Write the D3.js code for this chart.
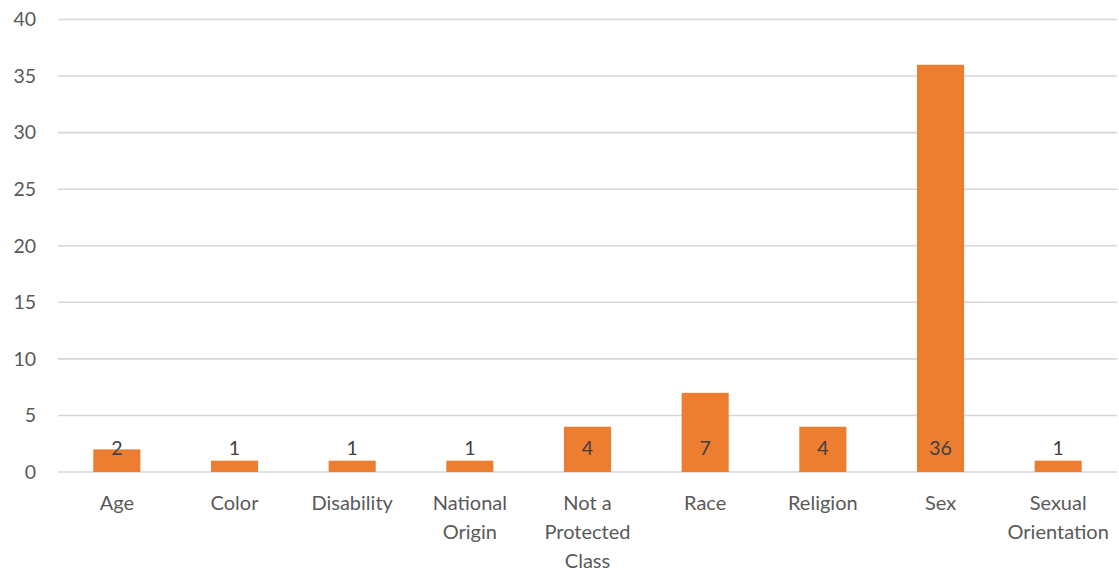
<!DOCTYPE html>
<html>
<head>
<meta charset="utf-8">
<script src="https://cdn.jsdelivr.net/npm/d3@7"></script>
<style>
  body { margin: 0; background: #fff; }
  text { font-family: Lato, "Open Sans", sans-serif; }
</style>
</head>
<body>
<svg id="chart" width="1119" height="574"></svg>
<script>
// categories and counts
var categories = [
  ["Age"], ["Color"], ["Disability"], ["National", "Origin"],
  ["Not a", "Protected", "Class"], ["Race"], ["Religion"], ["Sex"],
  ["Sexual", "Orientation"]
];
var counts = [2, 1, 1, 1, 4, 7, 4, 36, 1];
var yTicks = [0, 5, 10, 15, 20, 25, 30, 35, 40];

var svg = d3.select('#chart');
var plotLeft = 58, plotRight = 1117, plotTop = 19.5, plotBottom = 472;

var x = d3.scaleBand()
  .domain(d3.range(categories.length))
  .range([plotLeft, plotRight])
  .paddingInner(0.6)
  .paddingOuter(0.3);

var y = d3.scaleLinear().domain([0, 40]).range([plotBottom, plotTop]);

// gridlines
svg.append('g')
  .selectAll('line')
  .data(yTicks)
  .enter().append('line')
  .attr('x1', plotLeft).attr('x2', plotRight)
  .attr('y1', function(d){ return y(d); })
  .attr('y2', function(d){ return y(d); })
  .style('stroke', '#d6d6d6')
  .style('stroke-width', '1.6px');

// y axis labels
var yAxis = d3.axisLeft(y).tickValues(yTicks).tickSize(0).tickPadding(0);
var yg = svg.append('g')
  .attr('transform', 'translate(36,0)')
  .call(yAxis);
yg.select('.domain').remove();
yg.selectAll('text')
  .style('font-size', '19.5px')
  .style('fill', '#595959')
  .style('font-family', 'Lato, "Open Sans", sans-serif');

// bars
svg.append('g')
  .selectAll('rect')
  .data(counts)
  .enter().append('rect')
  .attr('x', function(d, i){ return x(i); })
  .attr('width', x.bandwidth())
  .attr('y', function(d){ return y(d); })
  .attr('height', function(d){ return y(0) - y(d); })
  .style('fill', '#ed7d31');

// data labels, all sit just above the base
svg.append('g')
  .selectAll('text')
  .data(counts)
  .enter().append('text')
  .attr('x', function(d, i){ return x(i) + x.bandwidth() / 2; })
  .attr('y', plotBottom - 17)
  .attr('text-anchor', 'middle')
  .style('font-size', '19.5px')
  .style('fill', '#404040')
  .text(function(d){ return d; });

// category labels
var cat = svg.append('g')
  .selectAll('text')
  .data(categories)
  .enter().append('text')
  .attr('x', function(d, i){ return x(i) + x.bandwidth() / 2; })
  .attr('y', 510)
  .attr('text-anchor', 'middle')
  .style('font-size', '20px')
  .style('fill', '#595959');

cat.each(function(lines){
  var t = d3.select(this);
  lines.forEach(function(l, k){
    t.append('tspan')
      .attr('x', t.attr('x'))
      .attr('dy', k === 0 ? 0 : 29)
      .text(l);
  });
});
</script>
</body>
</html>
